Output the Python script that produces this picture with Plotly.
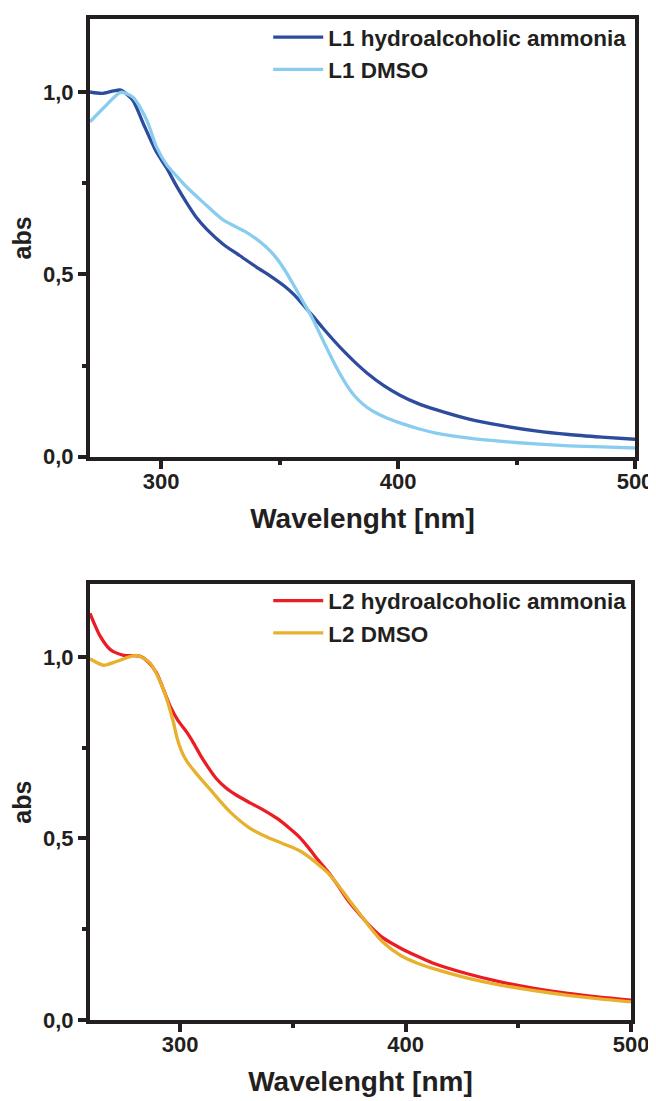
import plotly.graph_objects as go

# ---- data ----
l1_amm_wl = [270, 275, 280, 283, 288, 292.5, 298, 302.4, 306.6, 310.8, 315, 319.2, 326.3, 333.3, 340.4, 346, 352, 356, 360, 364, 368, 373, 377, 382, 387, 394, 401, 408, 416, 430, 444, 458, 472, 486, 500]
l1_amm_abs = [1.0, 0.996, 1.003, 1.005, 0.978, 0.913, 0.836, 0.791, 0.741, 0.696, 0.655, 0.624, 0.582, 0.551, 0.519, 0.496, 0.468, 0.445, 0.416, 0.386, 0.355, 0.318, 0.290, 0.258, 0.229, 0.195, 0.168, 0.147, 0.129, 0.103, 0.085, 0.071, 0.061, 0.054, 0.048]

l1_dmso_wl = [270, 276, 283, 288, 294, 298, 302.4, 306.6, 311, 318, 326, 335, 340, 344, 348, 352, 356, 360, 363, 366, 369, 372, 375, 378, 381, 384, 387, 391, 396, 402, 409, 416, 430, 444, 458, 472, 486, 500]
l1_dmso_abs = [0.918, 0.958, 0.999, 0.986, 0.922, 0.85, 0.8, 0.769, 0.738, 0.696, 0.65, 0.619, 0.598, 0.577, 0.55, 0.514, 0.47, 0.424, 0.39, 0.351, 0.31, 0.27, 0.233, 0.2, 0.172, 0.151, 0.135, 0.119, 0.104, 0.090, 0.076, 0.065, 0.051, 0.042, 0.035, 0.030, 0.027, 0.024]

l2_amm_wl = [260, 262, 264.5, 269, 275, 282, 286, 289.5, 295.5, 299, 303, 306, 309, 312.5, 316, 320.5, 325, 331, 337, 343, 348.5, 353, 357, 361, 366, 370, 375, 380, 384, 390, 398, 405, 412, 427, 442, 457, 472, 486, 500]
l2_amm_abs = [1.12, 1.09, 1.057, 1.02, 1.004, 1.002, 0.985, 0.956, 0.865, 0.825, 0.792, 0.762, 0.729, 0.695, 0.665, 0.638, 0.619, 0.598, 0.578, 0.555, 0.528, 0.503, 0.474, 0.442, 0.405, 0.37, 0.325, 0.288, 0.26, 0.226, 0.197, 0.176, 0.157, 0.128, 0.105, 0.087, 0.073, 0.063, 0.055]

l2_dmso_wl = [260, 266, 272, 280.5, 286.5, 292.5, 297, 298.5, 300.5, 303, 307, 313, 322, 331, 337, 343, 348, 353, 358.8, 363, 366, 370, 375, 380, 384, 390, 398, 405, 412, 427, 442, 457, 472, 486, 500]
l2_dmso_abs = [0.995, 0.977, 0.988, 1.004, 0.984, 0.911, 0.82, 0.779, 0.742, 0.712, 0.68, 0.637, 0.574, 0.528, 0.508, 0.492, 0.48, 0.466, 0.441, 0.419, 0.402, 0.372, 0.33, 0.29, 0.257, 0.214, 0.177, 0.157, 0.142, 0.116, 0.096, 0.081, 0.068, 0.058, 0.050]

x_tickvals = [300, 400, 500]
y_tickvals = [0.0, 0.5, 1.0]

# ---- style ----
INK = "#231f20"
FONT = "Liberation Sans"
C_DBLUE = "#2d4c9d"
C_LBLUE = "#88cdef"
C_RED = "#ec1c24"
C_ORANGE = "#e7b02d"

fig = go.Figure()

def add(x, y, name, color, xa, ya, legend):
    fig.add_trace(go.Scatter(
        x=x, y=y, name=name, mode="lines",
        line=dict(color=color, width=3.3, shape="spline", smoothing=0.7),
        xaxis=xa, yaxis=ya, legend=legend,
    ))

add(l1_amm_wl, l1_amm_abs, "L1 hydroalcoholic ammonia", C_DBLUE, "x", "y", "legend")
add(l1_dmso_wl, l1_dmso_abs, "L1 DMSO", C_LBLUE, "x", "y", "legend")
add(l2_amm_wl, l2_amm_abs, "L2 hydroalcoholic ammonia", C_RED, "x2", "y2", "legend2")
add(l2_dmso_wl, l2_dmso_abs, "L2 DMSO", C_ORANGE, "x2", "y2", "legend2")

tickfont = dict(family=FONT, size=22, color=INK, weight="bold")
titlefont = dict(family=FONT, size=28, color=INK, weight="bold")

def xaxis(rng, domain, anchor):
    return dict(
        range=rng, domain=domain, anchor=anchor, automargin=False,
        tickmode="array", tickvals=x_tickvals,
        showline=True, linewidth=4, linecolor=INK, mirror=True,
        ticks="outside", ticklen=8, tickwidth=3.5, tickcolor=INK,
        ticklabelstandoff=-6,
        minor=dict(ticks="outside", ticklen=4, tickwidth=3.5, tickcolor=INK, dtick=50, tick0=300),
        showgrid=False, zeroline=False,
        tickfont=tickfont,
        title=dict(text="Wavelenght [nm]", font=titlefont, standoff=16),
    )

def yaxis(domain, anchor):
    return dict(
        range=[0, 1.2], domain=domain, anchor=anchor, automargin=False,
        tickmode="array", tickvals=y_tickvals, tickformat=".1f",
        showline=True, linewidth=4, linecolor=INK, mirror=True,
        ticks="outside", ticklen=8, tickwidth=3.5, tickcolor=INK,
        minor=dict(ticks="outside", ticklen=4, tickwidth=3.5, tickcolor=INK, dtick=0.25, tick0=0),
        showgrid=False, zeroline=False,
        tickfont=tickfont,
        title=dict(text="abs", font=dict(family=FONT, size=25, color=INK, weight="bold"), standoff=8),
    )

legfont = dict(family=FONT, size=22.5, color=INK, weight="bold")

fig.update_layout(
    width=656, height=1101,
    margin=dict(l=82, r=29, t=8, b=89),
    paper_bgcolor="white", plot_bgcolor="white",
    separators=",.",
    showlegend=True,
    xaxis=xaxis([270, 500], [0, 1], "y"),
    yaxis=yaxis([0.5627, 1.0], "x"),
    xaxis2=xaxis([260, 500], [0, 0.9927], "y2"),
    yaxis2=yaxis([0.0, 0.4353], "x2"),
    legend=dict(x=0.327, y=1.003, xanchor="left", yanchor="top", font=legfont,
                bgcolor="rgba(0,0,0,0)", itemwidth=50, tracegroupgap=0),
    legend2=dict(x=0.327, y=0.44, xanchor="left", yanchor="top", font=legfont,
                 bgcolor="rgba(0,0,0,0)", itemwidth=50, tracegroupgap=0),
)

fig.write_html("out.html")
